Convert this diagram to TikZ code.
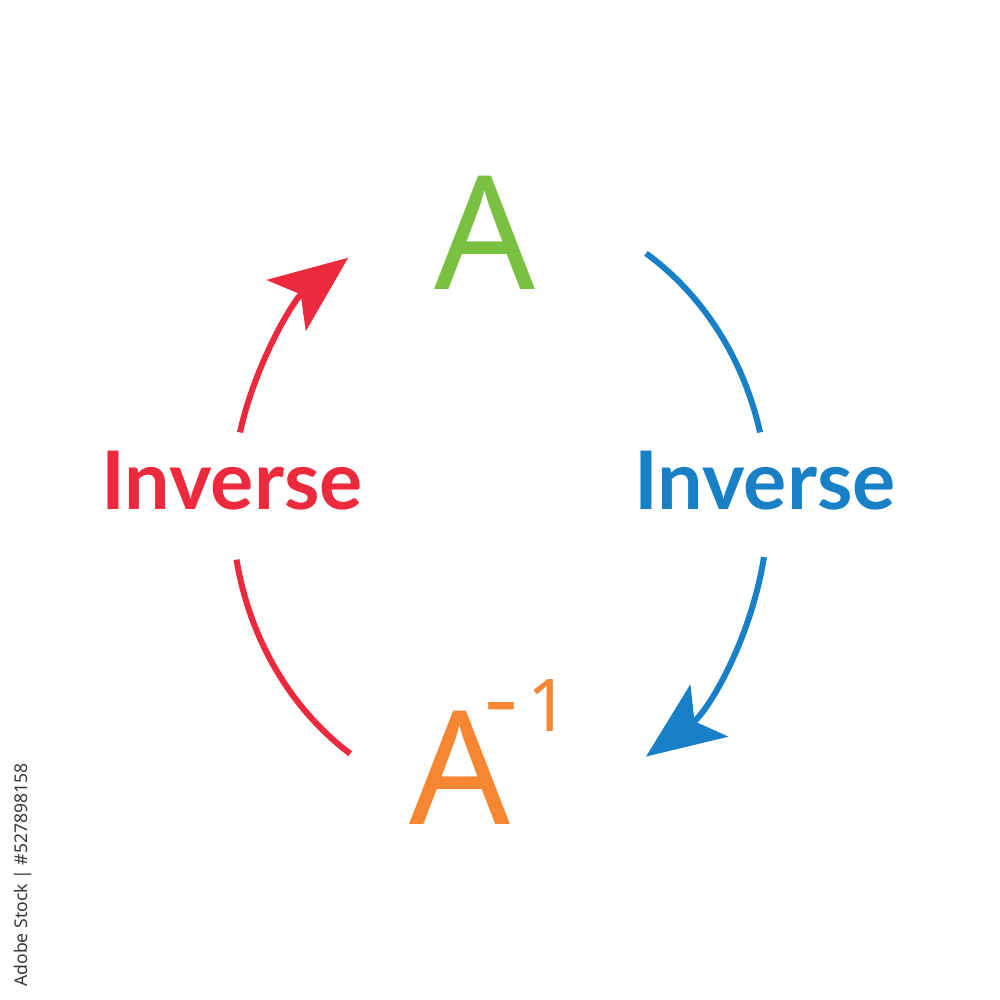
\documentclass[tikz,border=0pt]{standalone}
\usepackage{fontspec}
\setmainfont{Noto Sans}
\newfontfamily\invfont{Lato}
\usetikzlibrary{arrows.meta,calc}
\definecolor{cgreen}{RGB}{122,193,66}
\definecolor{corange}{RGB}{245,134,50}
\definecolor{cred}{RGB}{237,41,62}
\definecolor{cblue}{RGB}{24,128,198}
\definecolor{cmark}{RGB}{55,55,55}
\tikzset{
  bigletter/.style={inner sep=0pt, anchor=base, font=\fontsize{45}{45}\selectfont},
  suplabel/.style={inner sep=0pt, anchor=base west, font=\fontsize{20.7}{20.7}\selectfont},
  invlabel/.style={inner sep=0pt, anchor=base, font=\invfont\bfseries\fontsize{23}{23}\selectfont},
  arcline/.style={line width=0.06cm},
  arrowtip/.style={-{Stealth[length=0.78cm, width=0.64cm, inset=0.18cm]}},
}
\begin{document}
\begin{tikzpicture}
\useasboundingbox[fill=white] (0,0) rectangle (10,10);
% letters
\node[bigletter, text=cgreen] (A) at (4.85,7.10) {A};
\node[bigletter, text=corange] (Ainv) at (4.60,1.75) {A};
\node[suplabel, text=corange] (sup) at (4.84,2.68) {\scalebox{1.45}[1.3]{-}\kern0.12em1};
\node[invlabel, text=cred] (invL) at (2.32,4.90) {Inverse};
\node[invlabel, text=cblue] (invR) at (7.65,4.90) {Inverse};
% arc ends
\coordinate (O) at (5.00,4.95);
\coordinate (r1) at ($(O)+(236:2.68 and 3.00)$);
\coordinate (r2) at ($(O)+(166:2.68 and 3.00)$);
\coordinate (b1) at ($(O)+(57:2.68 and 3.00)$);
\coordinate (b2) at ($(O)+(-10:2.68 and 3.00)$);
% red: A^-1 -> A
\draw[arcline, cred] (r1) arc[start angle=236, end angle=190.5, x radius=2.68, y radius=3.00];
\draw[arcline, cred, arrowtip] (r2) arc[start angle=166, end angle=124.5, x radius=2.68, y radius=3.00];
% blue: A -> A^-1
\draw[arcline, cblue] (b1) arc[start angle=57, end angle=14, x radius=2.68, y radius=3.00];
\draw[arcline, cblue, arrowtip] (b2) arc[start angle=-10, end angle=-57, x radius=2.68, y radius=3.00];
% watermark caption
\node[rotate=90, inner sep=0pt, text=cmark, font=\fontsize{5}{5}\selectfont] (mark) at (0.23,1.25) {Adobe Stock | \#527898158};
\end{tikzpicture}
\end{document}
